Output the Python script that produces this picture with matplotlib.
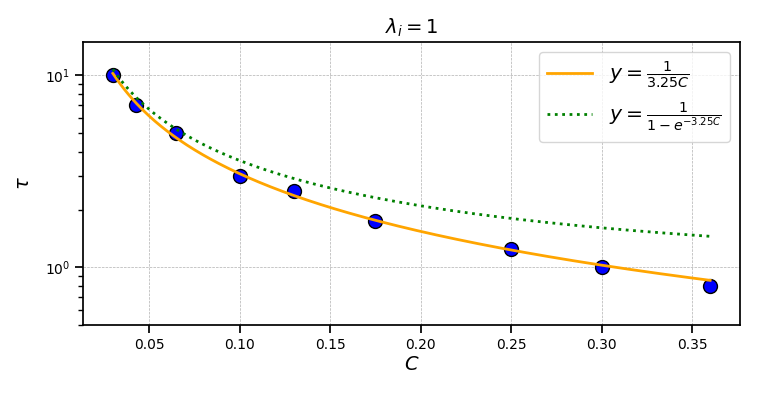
import numpy as np
import matplotlib
matplotlib.use("Agg")
import matplotlib.pyplot as plt

# Data
C_points = [0.03, 0.043, 0.065, 0.10, 0.13, 0.175, 0.25, 0.30, 0.36]
tau_points = [10.0, 7.0, 5.0, 3.0, 2.5, 1.75, 1.25, 1.0, 0.8]
k = 3.25
C_min, C_max = 0.03, 0.36
C_line = np.linspace(C_min, C_max, 300)
fit1 = 1.0 / (k * C_line)
fit2 = 1.0 / (1.0 - np.exp(-k * C_line))

fig = plt.figure(figsize=(7.57, 3.97), dpi=100)
ax = fig.add_axes([83/757, 1 - 325/397, (740-83)/757, (325-41.7)/397])

ax.plot(C_line, fit1, color='orange', lw=2, label=r'$y=\frac{1}{3.25C}$', zorder=3)
ax.plot(C_line, fit2, color='green', lw=2, ls=':', label=r'$y=\frac{1}{1-e^{-3.25C}}$', zorder=3)
ax.scatter(C_points, tau_points, s=100, color='blue', edgecolors='black', linewidths=1, zorder=2)

ax.set_yscale('log')
ax.set_ylim(0.5, 15)
ax.set_xlim(0.0135, 0.3765)
ax.set_xticks([0.05, 0.10, 0.15, 0.20, 0.25, 0.30, 0.35])
ax.set_xticklabels(['0.05', '0.10', '0.15', '0.20', '0.25', '0.30', '0.35'])
ax.grid(True, which='major', ls='--', lw=0.5, color='#b0b0b0')
ax.set_axisbelow(True)

for s in ax.spines.values():
    s.set_linewidth(1.25)
ax.tick_params(which='major', length=6, width=1.25, labelsize=10)
ax.tick_params(which='minor', length=3.5, width=1.0)

ax.set_xlabel(r'$C$', fontsize=14, labelpad=2)
ax.set_ylabel(r'$\tau$', fontsize=14, labelpad=8)
ax.set_title(r'$\lambda_i = 1$', fontsize=14)
ax.legend(loc='upper right', fontsize=14.7, handlelength=2.2)

fig.savefig('out.png', dpi=100)
